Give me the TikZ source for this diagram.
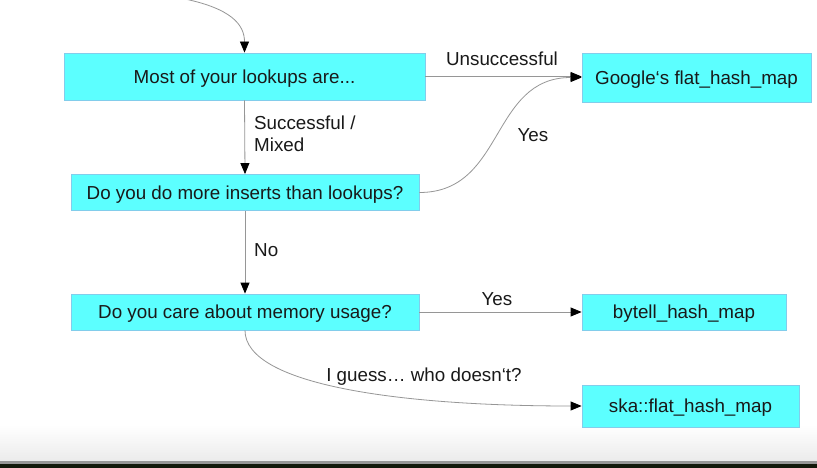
\documentclass[tikz,border=0pt]{standalone}
\usepackage{fontspec}
\setmainfont{Liberation Sans}
\usetikzlibrary{arrows.meta}
\definecolor{boxfill}{RGB}{92,255,255}
\definecolor{boxline}{RGB}{130,205,235}
\definecolor{conn}{RGB}{150,150,150}
\definecolor{txt}{RGB}{25,25,25}
\definecolor{barlight}{RGB}{235,235,235}
\definecolor{bargray}{RGB}{150,150,150}
\definecolor{bardark}{RGB}{18,24,10}
\begin{document}
\begin{tikzpicture}[x=1pt,y=-1pt,
  every node/.style={font=\fontsize{18.8}{22}\selectfont, text=txt},
  box/.style={draw=boxline, line width=0.8pt, fill=boxfill, inner sep=0pt, anchor=center, text height=13.4pt, text depth=0pt},
  conn/.style={draw=conn, line width=0.8pt, -{Triangle[length=11pt,width=9pt,color=black]}},
  lbl/.style={inner sep=0pt}]
\useasboundingbox (0,0) rectangle (817,468);
\fill[white] (0,0) rectangle (817,468);
\shade[top color=white, bottom color=barlight] (0,425) rectangle (817,461);
\fill[bargray] (0,461) rectangle (817,464);
\fill[bardark] (0,464) rectangle (817,468);

\node[box, minimum width=361pt, minimum height=47pt] (q1) at (244.5,76.5) {Most of your lookups are...};
\node[box, minimum width=348pt, minimum height=36pt] (q2) at (245,192.5) {Do you do more inserts than lookups?};
\node[box, minimum width=348pt, minimum height=36pt] (q3) at (245,312) {Do you care about memory usage?};
\node[box, minimum width=229pt, minimum height=49pt] (g) at (696.5,77.5) {Google‘s flat\_hash\_map};
\node[box, minimum width=204pt, minimum height=36pt] (b) at (684,312) {bytell\_hash\_map};
\node[box, minimum width=217pt, minimum height=42pt] (s) at (690.5,406) {ska::flat\_hash\_map};

\coordinate (start) at (180,-2);
\draw[conn] (start) .. controls (232,8) and (244.5,25) .. (q1.north);

\draw[conn] (q1.south) -- (q2.north);
\node[lbl, anchor=west, align=left] (l1) at (254,134) {Successful /\\Mixed};

\draw[conn] (q2.south) -- (q3.north);
\node[lbl, anchor=west] (l2) at (254,250) {No};

\draw[conn] (q1.east) -- (g.west |- q1.east);
\node[lbl] (l3) at (502,59) {Unsuccessful};

\draw[conn] (q2.east) .. controls (505,192.5) and (490,77.5) .. (g.west);
\node[lbl] (l4) at (533,135) {Yes};

\draw[conn] (q3.east) -- (b.west);
\node[lbl] (l5) at (497,299) {Yes};

\draw[conn] (q3.south) .. controls (245,385) and (400,406) .. (s.west);
\node[lbl] (l6) at (424,377) {I guess… who doesn‘t?};
\end{tikzpicture}
\end{document}
